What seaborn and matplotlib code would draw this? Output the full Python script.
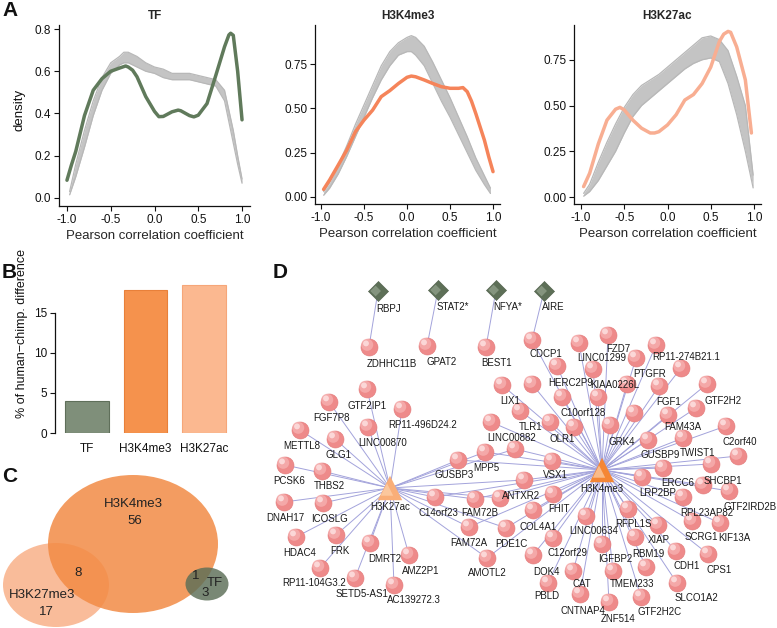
import numpy as np
import pandas as pd
import matplotlib
matplotlib.use("Agg")
import matplotlib.pyplot as plt
import seaborn as sns
from matplotlib.patches import Ellipse

sns.set_theme(style="ticks")
plt.rcParams['font.family'] = ['Liberation Sans', 'DejaVu Sans']

# ---------------- Panel A data (density of Pearson r) ----------------
tf_obs_x = [-1.0, -0.95, -0.9, -0.8, -0.7, -0.6, -0.5, -0.4, -0.33, -0.3, -0.25, -0.2, -0.1, 0.0, 0.05, 0.1,
            0.2, 0.27, 0.3, 0.4, 0.45, 0.5, 0.6, 0.7, 0.8, 0.85, 0.87, 0.9, 0.95, 1.0]
tf_obs_y = [0.084, 0.155, 0.22, 0.39, 0.51, 0.565, 0.60, 0.615, 0.625, 0.62, 0.605, 0.574, 0.48, 0.41, 0.385, 0.386,
            0.408, 0.416, 0.413, 0.39, 0.384, 0.392, 0.447, 0.58, 0.716, 0.772, 0.78, 0.77, 0.60, 0.37]
tf_null_x = [-0.97, -0.9, -0.8, -0.7, -0.6, -0.5, -0.4, -0.35, -0.3, -0.2, -0.1, 0.0, 0.1, 0.2,
             0.3, 0.4, 0.5, 0.6, 0.7, 0.8, 0.9, 0.95, 1.0]
tf_null_lo = [0.015, 0.10, 0.24, 0.39, 0.51, 0.59, 0.63, 0.64, 0.64, 0.62, 0.60, 0.59, 0.57, 0.56,
              0.56, 0.56, 0.55, 0.54, 0.53, 0.46, 0.26, 0.16, 0.07]
tf_null_hi = [0.03, 0.16, 0.32, 0.46, 0.57, 0.64, 0.67, 0.69, 0.69, 0.67, 0.64, 0.62, 0.61, 0.59,
              0.59, 0.59, 0.58, 0.57, 0.56, 0.51, 0.32, 0.20, 0.09]

k4_obs_x = [-0.97, -0.9, -0.8, -0.7, -0.6, -0.5, -0.4, -0.3, -0.2, -0.1, 0.0, 0.05, 0.1, 0.2,
            0.3, 0.4, 0.5, 0.6, 0.65, 0.7, 0.75, 0.8, 0.9, 0.95, 1.0]
k4_obs_y = [0.043, 0.096, 0.18, 0.265, 0.368, 0.434, 0.49, 0.566, 0.60, 0.64, 0.675, 0.682, 0.678, 0.66,
            0.64, 0.622, 0.613, 0.613, 0.617, 0.594, 0.54, 0.47, 0.32, 0.227, 0.143]
k4_null_x = [-0.97, -0.9, -0.8, -0.7, -0.6, -0.5, -0.4, -0.3, -0.2, -0.1, 0.0, 0.05, 0.1, 0.2,
             0.3, 0.4, 0.5, 0.6, 0.7, 0.8, 0.9, 0.97]
k4_null_lo = [0.01, 0.05, 0.13, 0.23, 0.34, 0.45, 0.56, 0.66, 0.74, 0.80, 0.82, 0.82, 0.80, 0.74,
              0.64, 0.54, 0.45, 0.35, 0.25, 0.15, 0.07, 0.02]
k4_null_hi = [0.03, 0.08, 0.18, 0.29, 0.41, 0.52, 0.63, 0.74, 0.82, 0.87, 0.90, 0.91, 0.90, 0.85,
              0.76, 0.66, 0.56, 0.45, 0.34, 0.22, 0.12, 0.05]

k27_obs_x = [-0.97, -0.9, -0.8, -0.7, -0.6, -0.55, -0.5, -0.4, -0.3, -0.2, -0.15, -0.1, 0.0, 0.1,
             0.2, 0.3, 0.4, 0.5, 0.6, 0.65, 0.7, 0.73, 0.8, 0.9, 0.97]
k27_obs_y = [0.057, 0.13, 0.29, 0.42, 0.48, 0.49, 0.476, 0.42, 0.376, 0.35, 0.35, 0.357, 0.394, 0.45,
             0.53, 0.56, 0.62, 0.71, 0.85, 0.89, 0.905, 0.90, 0.82, 0.64, 0.35]
k27_null_x = [-0.97, -0.9, -0.8, -0.7, -0.6, -0.5, -0.4, -0.3, -0.2, -0.1, 0.0, 0.1, 0.2, 0.3,
              0.4, 0.5, 0.6, 0.7, 0.8, 0.9, 0.99]
k27_null_lo = [0.005, 0.03, 0.09, 0.17, 0.25, 0.35, 0.44, 0.50, 0.54, 0.58, 0.62, 0.66, 0.70, 0.73,
               0.75, 0.76, 0.74, 0.62, 0.45, 0.25, 0.05]
k27_null_hi = [0.02, 0.07, 0.19, 0.30, 0.40, 0.49, 0.56, 0.61, 0.64, 0.67, 0.71, 0.75, 0.79, 0.83,
               0.87, 0.88, 0.86, 0.80, 0.66, 0.50, 0.12]

# ---------------- Panel B data ----------------
bar_cats = ["TF", "H3K4me3", "H3K27ac"]
bar_vals = [4.0, 17.8, 18.5]

# ---------------- Panel C data (Venn counts) ----------------
venn_sets = ["H3K4me3", "H3K27me3", "TF"]
venn_counts = {"H3K4me3": 56, "H3K27me3": 17, "TF": 3, "H3K4me3&H3K27me3": 8, "H3K4me3&TF": 1}

# ---------------- Panel D data (network) ----------------
tf_names = ["RBPJ", "STAT2*", "NFYA*", "AIRE"]
hub_names = ["H3K27ac", "H3K4me3"]
gene_names = [
    "ZDHHC11B", "GPAT2", "BEST1", "CDCP1",
    "GTF2IP1", "FGF7P8", "RP11-496D24.2", "METTL8", "LINC00870", "GLG1", "PCSK6", "THBS2",
    "DNAH17", "ICOSLG", "HDAC4", "FRK", "DMRT2", "AMZ2P1", "RP11-104G3.2", "SETD5-AS1", "AC139272.3",
    "GUSBP3", "MPP5", "", "C14orf23", "FAM72B", "", "FAM72A", "PDE1C", "AMOTL2", "ANTXR2",
    "LINC01299", "FZD7", "RP11-274B21.1", "PTGFR", "HERC2P9", "KIAA0226L", "", "LIX1", "", "",
    "FGF1", "GTF2H2", "C10orf128", "", "", "FAM43A", "", "TLR1", "LINC00882", "OLR1", "", "GRK4",
    "C2orf40", "GUSBP9", "TWIST1", "", "VSX1", "ERCC6", "SHCBP1", "LRP2BP", "", "GTF2IRD2B",
    "RPL23AP82", "FHIT", "COL4A1", "LINC00634", "RFPL1S", "XIAP", "RBM19", "SCRG1", "KIF13A",
    "C12orf29", "IGFBP2", "CDH1", "CPS1", "DOK4", "CAT", "TMEM233", "", "SLCO1A2", "PBLD",
    "CNTNAP4", "ZNF514", "GTF2H2C",
]
gene_links = (["RBPJ", "STAT2*", "NFYA*", "AIRE|H3K4me3"]
              + ["H3K27ac"] * 17
              + ["H3K27ac|H3K4me3"] * 10
              + ["H3K4me3"] * 55)

# ---------------- layout (pixel positions of the network drawing) ----------------
tf_layout = [(378, 291, 389, 309), (438, 290, 453, 307), (496, 290, 508, 307), (544, 291, 553, 307)]
hub_layout = [(390, 488, 390, 507), (602, 470, 602, 489)]
gene_layout = [
    (369, 347, 392, 364), (427, 346, 442, 362), (486, 347, 497, 363), (532, 340, 546, 354),
    (367, 389, 367, 406), (329, 402, 332, 418), (402, 409, 423, 425), (300, 430, 302, 446),
    (368, 427, 383, 443), (335, 439, 338, 455), (285, 465, 289, 481), (322, 471, 329, 486),
    (284, 502, 285, 518), (323, 503, 329, 519), (296, 537, 300, 553), (336, 535, 340, 551),
    (370, 543, 385, 559), (409, 555, 421, 571), (320, 568, 314, 583), (355, 578, 362, 594),
    (394, 585, 414, 600),
    (458, 460, 454, 475), (485, 452, 486, 468), (515, 449, 0, 0), (435, 497, 438, 513),
    (475, 499, 480, 513), (500, 498, 0, 0), (469, 527, 469, 543), (506, 528, 511, 544),
    (487, 558, 487, 573), (524, 480, 521, 496),
    (579, 343, 602, 358), (608, 335, 618, 349), (656, 345, 686, 357), (636, 358, 650, 374),
    (557, 366, 571, 383), (593, 369, 615, 385), (681, 368, 0, 0), (502, 385, 510, 401),
    (532, 384, 0, 0), (627, 384, 0, 0), (659, 386, 669, 402), (707, 384, 723, 401),
    (562, 397, 583, 413), (598, 397, 0, 0), (634, 413, 0, 0), (668, 415, 683, 427),
    (696, 408, 0, 0), (520, 411, 531, 427), (491, 422, 512, 438), (550, 422, 562, 439),
    (574, 427, 0, 0), (610, 425, 622, 442), (726, 426, 740, 442), (648, 440, 660, 455),
    (683, 438, 698, 453), (738, 456, 0, 0), (552, 461, 555, 475), (663, 468, 678, 483),
    (711, 464, 723, 481), (642, 477, 658, 493), (703, 485, 0, 0), (729, 491, 750, 507),
    (683, 497, 707, 513), (553, 494, 559, 509), (533, 510, 538, 527), (586, 516, 594, 531),
    (628, 509, 633, 524), (658, 525, 659, 540), (635, 537, 648, 554), (692, 521, 701, 537),
    (720, 523, 734, 538), (553, 538, 567, 553), (602, 544, 615, 559), (676, 551, 687, 566),
    (708, 554, 719, 570), (533, 555, 546, 572), (573, 571, 582, 584), (613, 571, 632, 584),
    (646, 567, 0, 0), (677, 583, 696, 598), (548, 583, 547, 596), (580, 594, 583, 611),
    (609, 602, 618, 619), (641, 597, 660, 612),
]

# ---------------- colours ----------------
C_TF = "#607A5B"
C_K4 = "#F5845A"
C_K27 = "#F8AE92"
GRAY = "#C4C4C4"
GRAY_EDGE = "#B8B8B8"

W, H = 777, 628
fig = plt.figure(figsize=(W / 100, H / 100), dpi=100)


def px_axes(left, top, right, bottom):
    return fig.add_axes([left / W, 1 - bottom / H, (right - left) / W, (bottom - top) / H])


def ftext(x, y, s, **kw):
    fig.text(x / W, 1 - y / H, s, **kw)


def style_axes(ax):
    sns.despine(ax=ax)
    for sp in ("left", "bottom"):
        ax.spines[sp].set_linewidth(0.9)
        ax.spines[sp].set_color("#111111")
    ax.tick_params(direction="out", length=3.5, width=0.8, labelsize=8.5, colors="#111111", pad=2)


def density_panel(ax, nx, nlo, nhi, ox, oy, color, title, xlim, ylim, yticks, ylabels):
    ax.fill_between(nx, nlo, nhi, color=GRAY, lw=0, zorder=1)
    sns.lineplot(x=nx, y=nlo, ax=ax, color=GRAY_EDGE, lw=0.9, zorder=2)
    sns.lineplot(x=nx, y=nhi, ax=ax, color=GRAY_EDGE, lw=0.9, zorder=2)
    sns.lineplot(x=ox, y=oy, ax=ax, color=color, lw=2.5, zorder=3,
                 solid_joinstyle="round", solid_capstyle="round")
    ax.set_xlim(*xlim)
    ax.set_ylim(*ylim)
    ax.set_xticks([-1, -0.5, 0, 0.5, 1])
    ax.set_xticklabels(["-1.0", "-0.5", "0.0", "0.5", "1.0"])
    ax.set_yticks(yticks)
    ax.set_yticklabels(ylabels)
    ax.set_xlabel("Pearson correlation coefficient", fontsize=9.5, labelpad=3)
    ax.set_ylabel("")
    ax.set_title(title, fontsize=8.5, fontweight="bold", pad=4)
    style_axes(ax)


axA1 = px_axes(59, 25, 250, 206)
density_panel(axA1, tf_null_x, tf_null_lo, tf_null_hi, tf_obs_x, tf_obs_y, C_TF, "TF",
              (-1.091, 1.091), (-0.038, 0.819), [0, 0.2, 0.4, 0.6, 0.8],
              ["0.0", "0.2", "0.4", "0.6", "0.8"])
axA2 = px_axes(315, 25, 500, 204)
density_panel(axA2, k4_null_x, k4_null_lo, k4_null_hi, k4_obs_x, k4_obs_y, C_K4, "H3K4me3",
              (-1.07, 1.081), (-0.0395, 0.97), [0, 0.25, 0.5, 0.75],
              ["0.00", "0.25", "0.50", "0.75"])
axA3 = px_axes(574, 25, 761, 204)
density_panel(axA3, k27_null_x, k27_null_lo, k27_null_hi, k27_obs_x, k27_obs_y, C_K27, "H3K27ac",
              (-1.081, 1.081), (-0.038, 0.94), [0, 0.25, 0.5, 0.75],
              ["0.00", "0.25", "0.50", "0.75"])
ftext(20, 110, "density", rotation=90, ha="center", va="center", fontsize=9.5, color="#111111")

# ---------------- Panel B ----------------
axB = px_axes(55, 280, 235, 433)
bar_df = pd.DataFrame({"cat": bar_cats, "val": bar_vals})
bar_fill = ["#7F8F7A", "#F5924D", "#FBB890"]
bar_edge = ["#5F6F5A", "#E8803A", "#F6A679"]
sns.barplot(data=bar_df, x="cat", y="val", hue="cat", palette=bar_fill, legend=False,
            width=0.75, ax=axB, saturation=1)
for p, ec in zip(axB.patches, bar_edge):
    p.set_edgecolor(ec)
    p.set_linewidth(0.8)
axB.set_xlim(-0.547, 2.53)
axB.set_ylim(0, 19.1)
axB.set_yticks([0, 5, 10, 15])
axB.set_xlabel("")
axB.set_ylabel("")
style_axes(axB)
axB.spines["bottom"].set_visible(False)
axB.spines["left"].set_bounds(0, 15)
axB.tick_params(axis="x", length=0, pad=7)
ftext(22, 334, "% of human\u2212chimp. difference", rotation=90, ha="center", va="center",
      fontsize=9, color="#111111")

# ---------------- overlay axes for C and D (pixel coordinates) ----------------
axO = fig.add_axes([0, 0, 1, 1])
axO.set_facecolor("none")

# Venn
venn_geom = {"H3K27me3": ((56, 585), 106, 84, "#F8A273", 0.72),
             "H3K4me3": ((133, 544), 170, 138, "#F28B45", 0.85),
             "TF": ((207, 584), 43, 33, "#5B6E57", 0.82)}
for name in ["H3K27me3", "H3K4me3", "TF"]:
    (cx, cy), w, h, col, a = venn_geom[name]
    axO.add_patch(Ellipse((cx, cy), w, h, facecolor=col, alpha=a, edgecolor="none", zorder=1))
vt = dict(ha="center", va="center", fontsize=9.5, color="#222222", zorder=5)
axO.text(133, 504, venn_sets[0], **vt)
axO.text(135, 521, str(venn_counts["H3K4me3"]), **vt)
axO.text(78, 573, str(venn_counts["H3K4me3&H3K27me3"]), **vt)
axO.text(42, 595, venn_sets[1], **vt)
axO.text(46, 612, str(venn_counts["H3K27me3"]), **vt)
axO.text(196, 576, str(venn_counts["H3K4me3&TF"]), **vt)
axO.text(215, 583, venn_sets[2], **vt)
axO.text(205, 593, str(venn_counts["TF"]), **vt)

# Network
pos = {}
for n, (x, y, lx, ly) in zip(tf_names, tf_layout):
    pos[n] = (x, y)
for n, (x, y, lx, ly) in zip(hub_names, hub_layout):
    pos[n] = (x, y)

for links, (x, y, lx, ly) in zip(gene_links, gene_layout):
    for src in links.split("|"):
        sx, sy = pos[src]
        axO.plot([sx, x], [sy, y], color="#A3A3DB", lw=0.7, zorder=2, solid_capstyle="round")

gx = np.array([g[0] for g in gene_layout], float)
gy = np.array([g[1] for g in gene_layout], float)
sns.scatterplot(x=gx, y=gy, ax=axO, s=150, color="#EE8A8A", edgecolor="#E27B7B", linewidth=0.4,
                zorder=3, legend=False)
sns.scatterplot(x=gx - 1.8, y=gy - 2.2, ax=axO, s=75, color="#F6B0B0", edgecolor="none",
                alpha=0.8, zorder=4, legend=False)
sns.scatterplot(x=gx - 3.0, y=gy - 3.6, ax=axO, s=18, color="#FDE3E3", edgecolor="none",
                alpha=0.8, zorder=4, legend=False)

tx = np.array([t[0] for t in tf_layout], float)
ty = np.array([t[1] for t in tf_layout], float)
sns.scatterplot(x=tx, y=ty, ax=axO, s=105, marker="D", color="#5D6F57", edgecolor="#4E5E49",
                linewidth=0.4, zorder=3, legend=False)
sns.scatterplot(x=tx - 2.4, y=ty, ax=axO, s=30, marker="D", color="#8E9E88", edgecolor="none",
                alpha=0.8, zorder=4, legend=False)

hx = np.array([h[0] for h in hub_layout], float)
hy = np.array([h[1] for h in hub_layout], float)
hub_cols = ["#F9AE78", "#F58634"]
for i in range(2):
    sns.scatterplot(x=[hx[i]], y=[hy[i]], ax=axO, s=310, marker="^", color=hub_cols[i],
                    edgecolor="none", zorder=5, legend=False)
    sns.scatterplot(x=[hx[i] - 3.0], y=[hy[i] + 1.5], ax=axO, s=80, marker="^", color="#FCD2AE",
                    edgecolor="none", alpha=0.7, zorder=5, legend=False)

lt = dict(ha="center", va="center", fontsize=7.0, color="#1A1A1A", zorder=6)
for n, (x, y, lx, ly) in zip(tf_names, tf_layout):
    axO.text(lx, ly, n, **lt)
for n, (x, y, lx, ly) in zip(hub_names, hub_layout):
    axO.text(lx, ly, n, **lt)
for n, (x, y, lx, ly) in zip(gene_names, gene_layout):
    if n:
        axO.text(lx, ly, n, **lt)

axO.set_xlim(0, W)
axO.set_ylim(H, 0)
axO.axis("off")

# panel letters
for letter, (x, y) in {"A": (2, 11), "B": (2, 273), "C": (2, 477), "D": (273, 273)}.items():
    ftext(x, y, letter, ha="left", va="center", fontsize=15, fontweight="bold", color="#111111")

fig.savefig("out.png", dpi=100)
